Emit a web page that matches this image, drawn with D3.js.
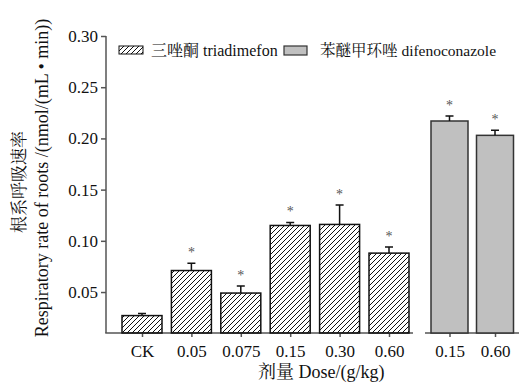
<!DOCTYPE html>
<html>
<head>
<meta charset="utf-8">
<script src="https://cdn.jsdelivr.net/npm/d3@7"></script>
<style>
  body { margin: 0; background: #fff; }
  svg text { font-family: "Liberation Serif", "Noto Serif CJK SC", serif !important; }
</style>
</head>
<body>
<div class="container"></div>
<script>
const WIDTH = 530;
const HEIGHT = 386;

// data
const doses = ["CK", "0.05", "0.075", "0.15", "0.30", "0.60"];
const triadimefon = [0.027, 0.071, 0.049, 0.115, 0.116, 0.088];
const triadimefonErr = [0.002, 0.007, 0.007, 0.003, 0.019, 0.006];
const triadimefonSig = ["", "*", "*", "*", "*", "*"];

const difenoDoses = ["0.15", "0.60"];
const difenoconazole = [0.217, 0.203];
const difenoErr = [0.005, 0.005];
const difenoSig = ["*", "*"];

const yTicks = [0.05, 0.10, 0.15, 0.20, 0.25, 0.30];

const AXIS_COLOR = "#555";

var yScale = d3.scaleLinear().domain([0.01, 0.30]).range([333, 36]);
var xLeft = d3.scalePoint().domain(doses).range([142, 389]);
var xRight = d3.scalePoint().domain(difenoDoses).range([449.5, 495]);

var svg = d3.select(".container").append("svg")
    .attr("width", WIDTH)
    .attr("height", HEIGHT);

var defs = svg.append("defs");
defs.append("pattern")
    .attr("id", "hatch")
    .attr("patternUnits", "userSpaceOnUse")
    .attr("width", 5)
    .attr("height", 5)
  .append("path")
    .attr("d", "M-1,1 l2,-2 M0,5 l5,-5 M4,6 l2,-2")
    .attr("stroke", "#111")
    .attr("stroke-width", 1);

// y axis
var yAxis = d3.axisLeft(yScale).tickValues(yTicks).tickSize(5).tickPadding(3)
    .tickFormat(d3.format(".2f"));
var gy = svg.append("g").attr("transform", "translate(106,0)").call(yAxis);
gy.select(".domain").remove();
gy.append("line").attr("x1", 0).attr("x2", 0)
    .attr("y1", yScale(0.30)).attr("y2", yScale(0.01));
gy.selectAll("line").attr("stroke", AXIS_COLOR).attr("stroke-width", 1.5);
gy.selectAll("text").attr("font-size", 17).attr("fill", "#111");

// x axes (broken)
function drawXAxis(scale, x0, x1) {
  var g = svg.append("g").attr("transform", "translate(0,333)")
      .call(d3.axisBottom(scale).tickSize(4).tickPadding(8));
  g.select(".domain").remove();
  g.append("line").attr("x1", x0).attr("x2", x1).attr("y1", 0).attr("y2", 0);
  g.selectAll("line").attr("stroke", AXIS_COLOR).attr("stroke-width", 1.5);
  g.selectAll("text").attr("font-size", 17).attr("fill", "#111");
}
drawXAxis(xLeft, 105.25, 413);
drawXAxis(xRight, 425, 519);

// bars
function drawBars(scale, cats, vals, errs, sig, width, fill, stroke) {
  var g = svg.append("g");
  g.selectAll("rect").data(cats).enter().append("rect")
      .attr("x", function(d) { return scale(d) - width / 2; })
      .attr("y", function(d, i) { return yScale(vals[i]); })
      .attr("width", width)
      .attr("height", function(d, i) { return yScale(0.01) - yScale(vals[i]); })
      .attr("fill", fill)
      .attr("stroke", stroke)
      .attr("stroke-width", 1.5);
  g.selectAll("path.err").data(cats).enter().append("path")
      .attr("class", "err")
      .attr("d", function(d, i) {
        var cx = scale(d), top = yScale(vals[i] + errs[i]), b = yScale(vals[i]);
        return "M" + cx + "," + b + "V" + top + "M" + (cx - 4) + "," + top + "H" + (cx + 4);
      })
      .attr("stroke", "#111")
      .attr("stroke-width", 1.5)
      .attr("fill", "none");
  g.selectAll("text").data(cats).enter().append("text")
      .attr("x", function(d) { return scale(d); })
      .attr("y", function(d, i) { return yScale(vals[i] + errs[i]) - 6; })
      .attr("text-anchor", "middle")
      .attr("font-size", 14)
      .attr("fill", "#555")
      .text(function(d, i) { return sig[i]; });
}
drawBars(xLeft, doses, triadimefon, triadimefonErr, triadimefonSig, 40, "url(#hatch)", "#111");
drawBars(xRight, difenoDoses, difenoconazole, difenoErr, difenoSig, 37, "#c0c0c0", "#333");

// legend
var legend = svg.append("g");
legend.append("rect").attr("x", 119).attr("y", 46).attr("width", 24).attr("height", 8)
    .attr("fill", "url(#hatch)").attr("stroke", "#111").attr("stroke-width", 1);
legend.append("text").attr("x", 151).attr("y", 56).attr("font-size", 16).attr("fill", "#111")
    .text("三唑酮 triadimefon");
legend.append("rect").attr("x", 284).attr("y", 46).attr("width", 23).attr("height", 9)
    .attr("fill", "#c0c0c0").attr("stroke", "#333").attr("stroke-width", 1.2);
legend.append("text").attr("x", 320).attr("y", 56).attr("font-size", 15.5).attr("fill", "#111")
    .text("苯醚甲环唑 difenoconazole");

// axis titles
svg.append("text")
    .attr("transform", "translate(25,182) rotate(-90)")
    .attr("text-anchor", "middle")
    .attr("font-size", 17).attr("fill", "#111")
    .text("根系呼吸速率");
svg.append("text")
    .attr("transform", "translate(48,178) rotate(-90)")
    .attr("text-anchor", "middle")
    .attr("font-size", 18).attr("fill", "#111")
    .text("Respiratory rate of roots /(nmol/(mL • min))");
svg.append("text")
    .attr("x", 258).attr("y", 378)
    .attr("font-size", 18).attr("fill", "#111")
    .text("剂量 Dose/(g/kg)");
</script>
</body>
</html>
